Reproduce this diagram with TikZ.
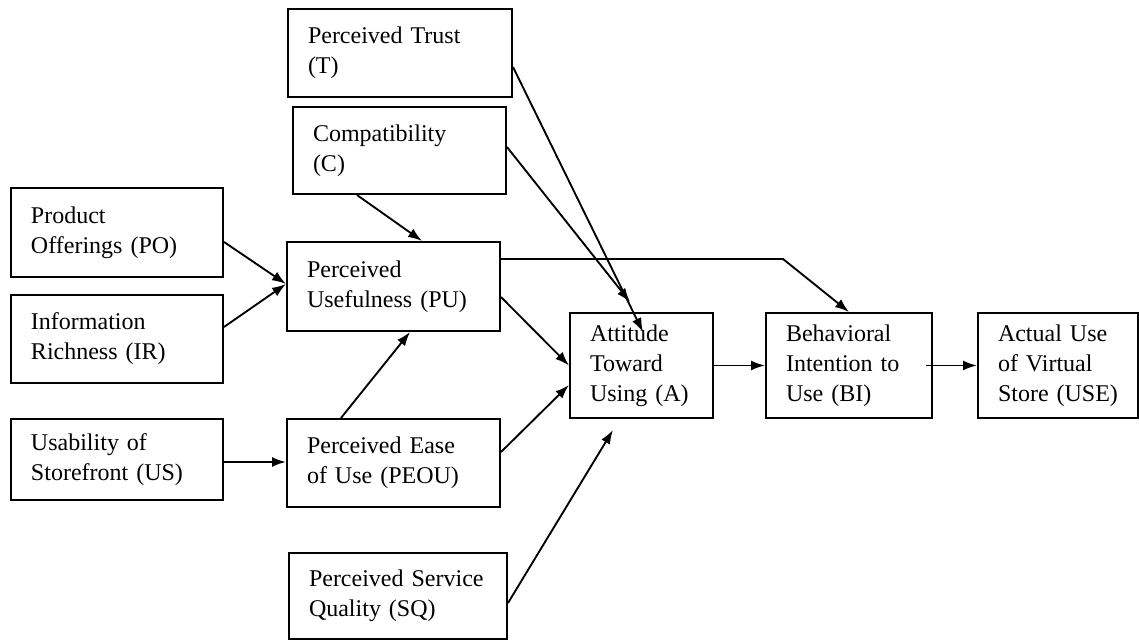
\documentclass[tikz,border=0pt]{standalone}
\usepackage{fontspec}
\setmainfont{Liberation Serif}
\usetikzlibrary{arrows.meta}

\tikzset{
  construct/.style={draw, line width=1.5pt, align=left, inner xsep=15pt, inner ysep=0pt,
    font=\fontsize{18}{22.5}\selectfont},
  link/.style={-{Latex[length=10.5pt,width=7.5pt]}, line width=1.4pt}
}

\begin{document}
\begin{tikzpicture}[x=0.75pt, y=-0.75pt]
        \useasboundingbox (0,0) rectangle (1139,641);

        % External variables (left column)
        \node[construct, text width=129pt, minimum height=66.75pt] (PO) at (117,232.5) {Product\\Offerings (PO)};
        \node[construct, text width=129pt, minimum height=66pt] (IR) at (117,339) {Information\\Richness (IR)};
        \node[construct, text width=129pt, minimum height=60.75pt] (US) at (117,459.5) {Usability of\\Storefront (US)};

        % Trust and compatibility (top)
        \node[construct, text width=138pt, minimum height=66pt] (T) at (400,53) {Perceived Trust\\(T)};
        \node[construct, text width=129.75pt, minimum height=65.25pt] (C) at (399.5,150.5) {Compatibility\\(C)};

        % Beliefs (middle column)
        \node[construct, text width=129.75pt, minimum height=66.75pt] (PU) at (393.5,286.5) {Perceived\\Usefulness (PU)};
        \node[construct, text width=129.75pt, minimum height=66pt] (PEOU) at (393.5,463) {Perceived Ease\\of Use (PEOU)};
        \node[construct, text width=133.5pt, minimum height=64.5pt] (SQ) at (398,596) {Perceived Service\\Quality (SQ)};

        % Attitude, intention and use (right)
        \node[construct, text width=77.25pt, minimum height=78.75pt] (A) at (641.5,365.5) {Attitude\\Toward\\Using (A)};
        \node[construct, text width=94.5pt, minimum height=78.75pt] (BI) at (849,365.5) {Behavioral\\Intention to\\Use (BI)};
        \node[construct, text width=90pt, minimum height=78.75pt] (USE) at (1058,365.5) {Actual Use\\of Virtual\\Store (USE)};

        % Arrows into PU and PEOU
        \draw[link] ([yshift=-7.1pt]PO.east) -- ([yshift=1.9pt]PU.west);
        \draw[link] ([yshift=9pt]IR.east) -- ([yshift=1.9pt]PU.west);
        \draw[link] ([xshift=-31.9pt]C.south) -- ([xshift=21.4pt]PU.north);
        \draw[link] ([xshift=-39.4pt]PEOU.north) -- ([xshift=12.4pt]PU.south);
        \draw[link] ([yshift=-1.9pt]US.east) -- ([yshift=0.75pt]PEOU.west);

        % Arrows into A
        \draw[link] ([yshift=-10.5pt]T.east) -- ([xshift=1.1pt,yshift=-15pt]A.north);
        \draw[link] ([yshift=2.6pt]C.east) -- ([xshift=-8.6pt,yshift=7.5pt]A.north);
        \draw[link] ([yshift=-7.9pt]PU.east) -- (A.west);
        \draw[link] ([yshift=8.25pt]PEOU.east) -- ([yshift=-14.6pt]A.west);
        \draw[link] ([yshift=-5.25pt]SQ.east) -- ([xshift=-21.4pt,yshift=-8.25pt]A.south);

        % PU to BI, A to BI, BI to USE
        \coordinate (bend) at (783,259);
        \draw[link] ([yshift=20.6pt]PU.east) -- (bend) -- (BI.north);
        \draw[link] (A.east) -- (BI.west);
        \draw[link] ([xshift=-5pt]BI.east) -- (USE.west);
    \end{tikzpicture}
\end{document}
